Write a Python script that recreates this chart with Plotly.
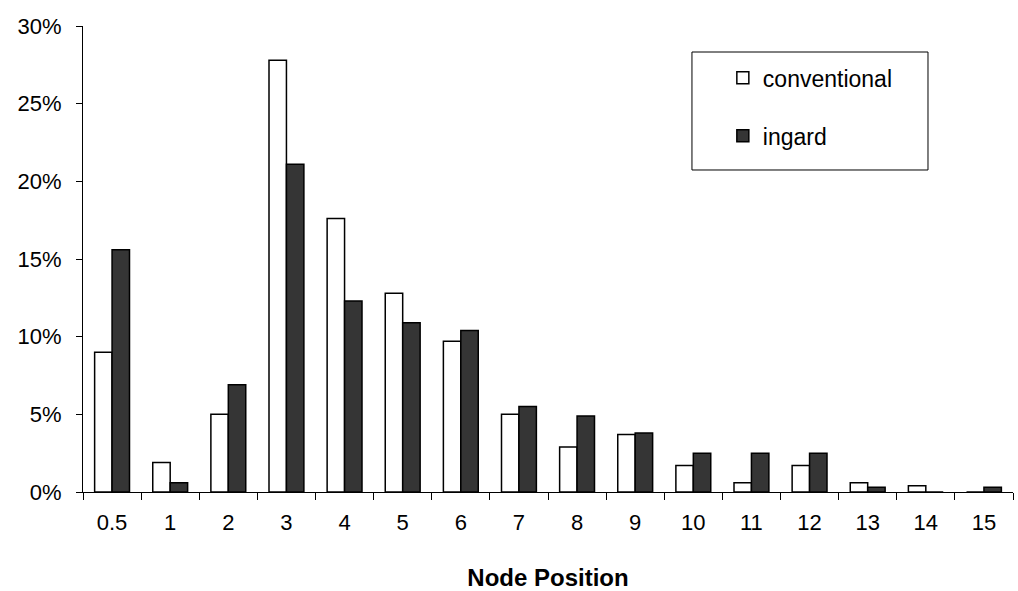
import plotly.graph_objects as go

# Node position categories and share of cases per technique
positions = ["0.5", "1", "2", "3", "4", "5", "6", "7", "8", "9", "10", "11", "12", "13", "14", "15"]
conventional = [0.090, 0.019, 0.050, 0.278, 0.176, 0.128, 0.097, 0.050, 0.029, 0.037, 0.017, 0.006, 0.017, 0.006, 0.004, 0.0]
ingard = [0.156, 0.006, 0.069, 0.211, 0.123, 0.109, 0.104, 0.055, 0.049, 0.038, 0.025, 0.025, 0.025, 0.003, 0.0, 0.003]

FONT = "Liberation Sans, Arial, sans-serif"

fig = go.Figure()
fig.add_trace(go.Bar(
    x=positions, y=conventional, name="conventional",
    marker=dict(color="white", line=dict(color="black", width=1.5)),
    legendgroup="a",
))
fig.add_trace(go.Bar(
    x=positions, y=ingard, name="ingard",
    marker=dict(color="#353535", line=dict(color="black", width=1.5)),
    legendgroup="b",
))

# framed box behind the legend entries
fig.add_shape(
    type="rect", xref="paper", yref="paper",
    x0=0.6548, x1=0.9086, y0=0.6910, y1=0.9442,
    line=dict(color="black", width=1), fillcolor="white", layer="below",
)

fig.update_layout(
    width=1018, height=591,
    margin=dict(l=83, r=5, t=26, b=99),
    paper_bgcolor="white", plot_bgcolor="white",
    font=dict(family=FONT, size=22, color="black"),
    barmode="group", bargap=0.4, bargroupgap=0.0,
    legend=dict(
        x=0.688, y=0.935, xanchor="left", yanchor="top",
        borderwidth=0, bgcolor="rgba(0,0,0,0)",
        font=dict(size=23), tracegroupgap=25,
    ),
    xaxis=dict(
        type="category", range=[-0.5, 15.5],
        showline=True, linecolor="black", linewidth=1,
        ticks="outside", tickson="boundaries", ticklen=7, tickcolor="black",
        showgrid=False, tickfont=dict(size=22), ticklabelstandoff=11,
        title=dict(text="<b>Node Position</b>", font=dict(size=24), standoff=34),
    ),
    yaxis=dict(
        range=[0, 0.30], dtick=0.05, tickformat=".0%",
        showline=True, linecolor="black", linewidth=1,
        ticks="outside", ticklen=6, tickcolor="black",
        showgrid=False, zeroline=False, tickfont=dict(size=22),
        ticklabelstandoff=10,
    ),
)

fig.write_html("out.html")
